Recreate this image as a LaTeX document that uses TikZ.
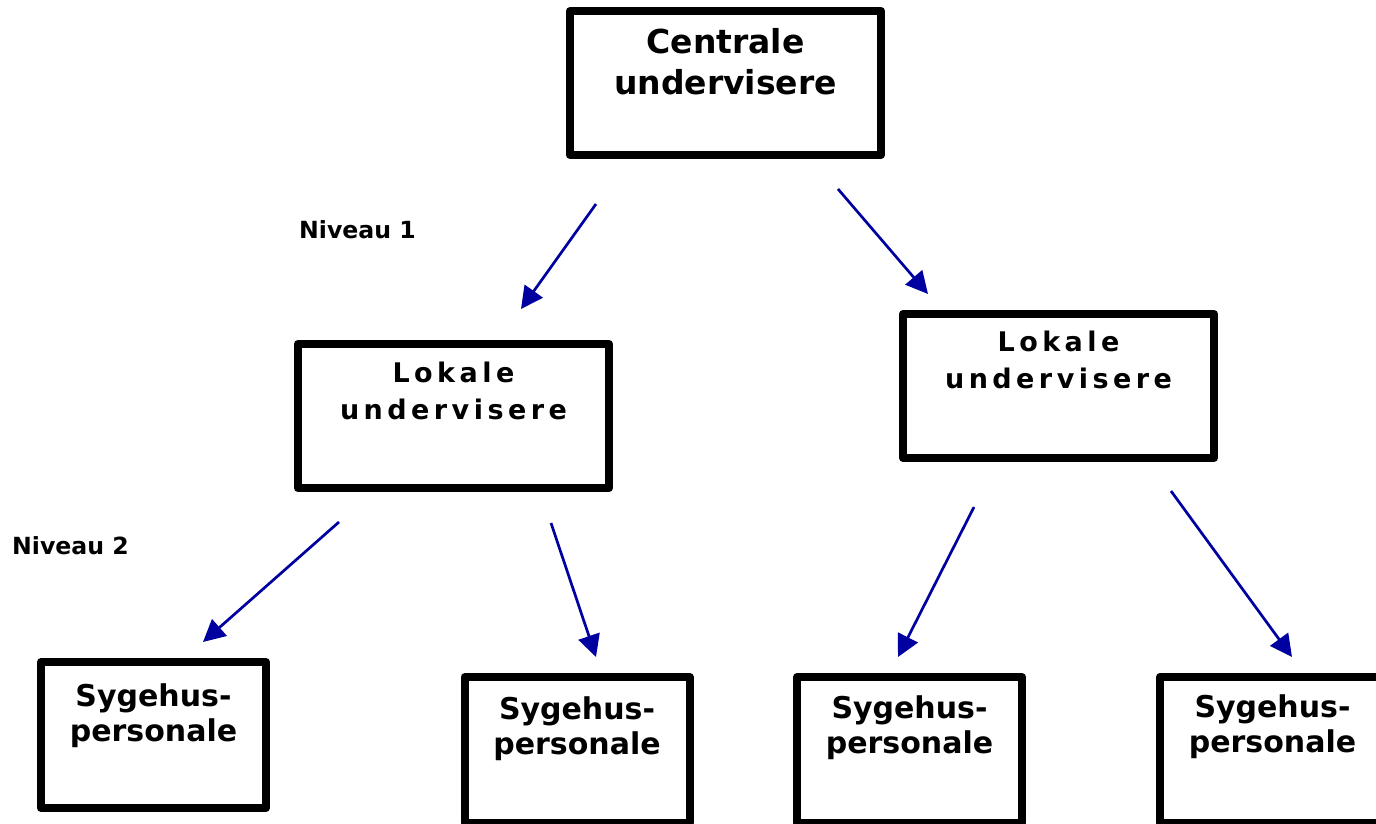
\documentclass[tikz,border=0pt]{standalone}
\usepackage{fontspec}
\setmainfont{DejaVu Sans}
\newfontfamily\spacedfont{DejaVu Sans}[LetterSpace=16.5]
\usetikzlibrary{arrows.meta,calc}
\definecolor{arrowblue}{RGB}{0,0,160}
\tikzset{
  box/.style={draw=black, line width=8pt, line join=round, rectangle, inner sep=0pt, fill=white},
  bigbox/.style={box, minimum width=311pt, minimum height=144pt},
  smallbox/.style={box, minimum width=225pt, minimum height=146pt},
  ctext/.style={align=center, inner sep=0pt, anchor=base, font=\bfseries\fontsize{33}{41}\selectfont},
  ltext/.style={align=center, inner sep=0pt, anchor=base, font=\spacedfont\bfseries\fontsize{27}{37}\selectfont},
  stext/.style={align=center, inner sep=0pt, anchor=base, font=\bfseries\fontsize{30}{35}\selectfont},
  lvl/.style={inner sep=0pt, anchor=base west, font=\bfseries\fontsize{23.6}{28}\selectfont},
  arr/.style={draw=arrowblue, line width=2.7pt, -{Triangle[length=22pt,width=22pt]}, fill=arrowblue}
}
\begin{document}
\begin{tikzpicture}[x=1pt,y=-1pt]
\useasboundingbox (0,0) rectangle (1376,823);
\clip (0,0) rectangle (1376,823);
% boxes
\node[bigbox] (cen) at (725.5,83) {};
\node[bigbox] (lokL) at (453.5,416) {};
\node[bigbox] (lokR) at (1058.5,386) {};
\node[smallbox] (s1) at (153.5,735) {};
\node[smallbox] (s2) at (577,750) {};
\node[smallbox] (s3) at (909.5,750) {};
\node[smallbox] (s4) at (1272.5,750) {};
% texts (anchor = baseline of the last line)
\node[ctext] (centxt) at ($(cen.north)+(0,87)$) {Centrale\\undervisere};
\node[ltext] (lokLtxt) at ($(lokL.north)+(0,79)$) {Lokale\\undervisere};
\node[ltext] (lokRtxt) at ($(lokR.north)+(0,78)$) {Lokale\\undervisere};
\node[stext] (s1txt) at ($(s1.north)+(0,83)$) {Sygehus-\\personale};
\node[stext] (s2txt) at ($(s2.north)+(0,81)$) {Sygehus-\\personale};
\node[stext] (s3txt) at ($(s3.north)+(0,80)$) {Sygehus-\\personale};
\node[stext] (s4txt) at ($(s4.north)+(0,79)$) {Sygehus-\\personale};
\node[lvl] (niv1) at (299,238) {Niveau 1};
\node[lvl] (niv2) at (12,554) {Niveau 2};
% arrow end points
\coordinate (a1s) at (596,204);  \coordinate (a1e) at (521,309);
\coordinate (a2s) at (838,189);  \coordinate (a2e) at (928,294);
\coordinate (a3s) at (339,522);  \coordinate (a3e) at (203,642);
\coordinate (a4s) at (551,523);  \coordinate (a4e) at (596,657);
\coordinate (a5s) at (974,507);  \coordinate (a5e) at (898,657);
\coordinate (a6s) at (1171,491); \coordinate (a6e) at (1292,657);
\draw[arr] (a1s) -- (a1e);
\draw[arr] (a2s) -- (a2e);
\draw[arr] (a3s) -- (a3e);
\draw[arr] (a4s) -- (a4e);
\draw[arr] (a5s) -- (a5e);
\draw[arr] (a6s) -- (a6e);
\end{tikzpicture}
\end{document}
